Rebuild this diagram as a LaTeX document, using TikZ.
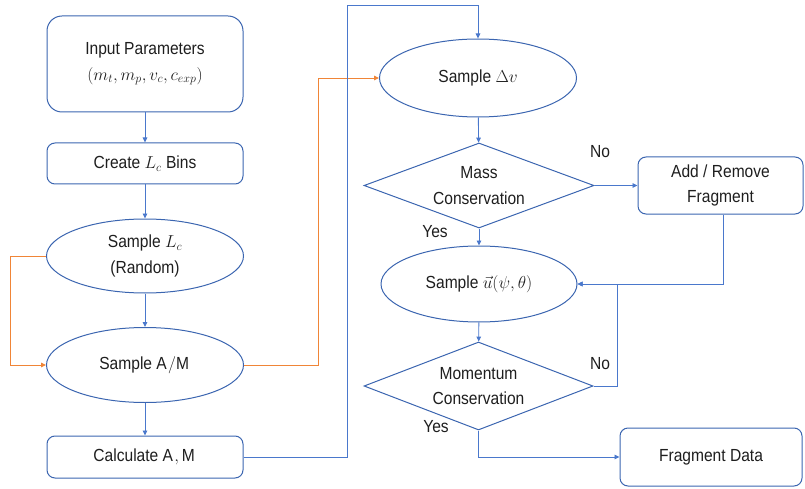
\documentclass[tikz,border=0pt]{standalone}
\usepackage{fontspec}
\setmainfont[FakeStretch=0.89]{Liberation Sans}
\usetikzlibrary{shapes.geometric,arrows.meta}
\definecolor{edgeblue}{HTML}{4A78CC}
\definecolor{boxblue}{HTML}{3B65B0}
\definecolor{flowor}{HTML}{F08537}
\definecolor{ink}{HTML}{1E1E1E}
\begin{document}
\begin{tikzpicture}[x=1pt,y=-1pt,
  every node/.style={font=\fontsize{17.5}{25.5}\selectfont, text=ink},
  rbox/.style={draw=boxblue, line width=1pt, rounded corners=8pt, align=center, inner sep=0pt},
  oval/.style={draw=boxblue, line width=1pt, ellipse, align=center, inner sep=0pt},
  dia/.style={draw=boxblue, line width=1pt, diamond, inner sep=0pt},
  txt/.style={align=center, inner sep=0pt},
  conn/.style={draw=edgeblue, line width=0.9pt, -{Triangle[length=5pt,width=4.5pt]}},
  oconn/.style={draw=flowor, line width=0.9pt, -{Triangle[length=5pt,width=4.5pt]}}]
\useasboundingbox (0,0) rectangle (805,489);

% left column
\node[rbox, rounded corners=15pt, minimum width=196, minimum height=96] (inp) at (145,64)
  {Input Parameters\\$(m_t, m_p, v_c, c_{exp})$};
\node[rbox, minimum width=196, minimum height=41] (bins) at (145,163.5) {Create $L_c$ Bins};
\node[oval, minimum width=197, minimum height=74] (slc) at (145,256) {Sample $L_c$\\(Random)};
\node[oval, minimum width=197, minimum height=75] (sam) at (145,365) {Sample $\mathrm{A/M}$};
\node[rbox, minimum width=196, minimum height=42] (calc) at (145,457) {Calculate $\mathrm{A,M}$};

% right column
\node[oval, minimum width=197, minimum height=78] (sdv) at (478,78) {Sample $\Delta v$};
\node[dia, minimum width=230, minimum height=85] (mass) at (479,185.5) {};
\node[txt] (masst) at (mass) {Mass\\Conservation};
\node[rbox, minimum width=165, minimum height=57] (addf) at (720.5,185.5) {Add / Remove\\Fragment};
\node[oval, minimum width=196, minimum height=76] (su) at (479,284) {Sample $\vec{u}(\psi,\theta)$};
\node[dia, minimum width=229, minimum height=88] (mom) at (478.5,386) {};
\node[txt] (momt) at (mom) {Momentum\\Conservation};
\node[rbox, minimum width=182, minimum height=58] (fd) at (711,457) {Fragment Data};

% branch labels
\node[txt] (no1) at (600,152) {No};
\node[txt] (yes1) at (435,232) {Yes};
\node[txt] (no2) at (600,364) {No};
\node[txt] (yes2) at (436,427) {Yes};

% routing points
\coordinate (oleft) at (10,0);
\coordinate (oright) at (318,0);
\coordinate (btop) at (347,5);
\coordinate (rloop) at (617,0);

% connectors
\draw[conn] (inp) -- (bins);
\draw[conn] (bins) -- (slc);
\draw[conn] (slc) -- (sam);
\draw[conn] (sam) -- (calc);
\draw[oconn] (slc.west) -- (slc.west -| oleft) |- (sam.west);
\draw[oconn] (sam.east) -- (sam.east -| oright) |- (sdv.west);
\draw[conn] (calc.east) -| (btop) -| (sdv.north);
\draw[conn] (sdv) -- (mass);
\draw[conn] (mass.east) -- (addf.west);
\draw[conn] (mass.south) -- (su.north);
\draw[conn] ([xshift=2.5pt]addf.south) |- (su.east);
\draw[conn] (su) -- (mom);
\draw[conn] (mom.east) -- (mom.east -| rloop) |- (su.east);
\draw[conn] (mom.south) |- (fd.west);
\end{tikzpicture}
\end{document}
